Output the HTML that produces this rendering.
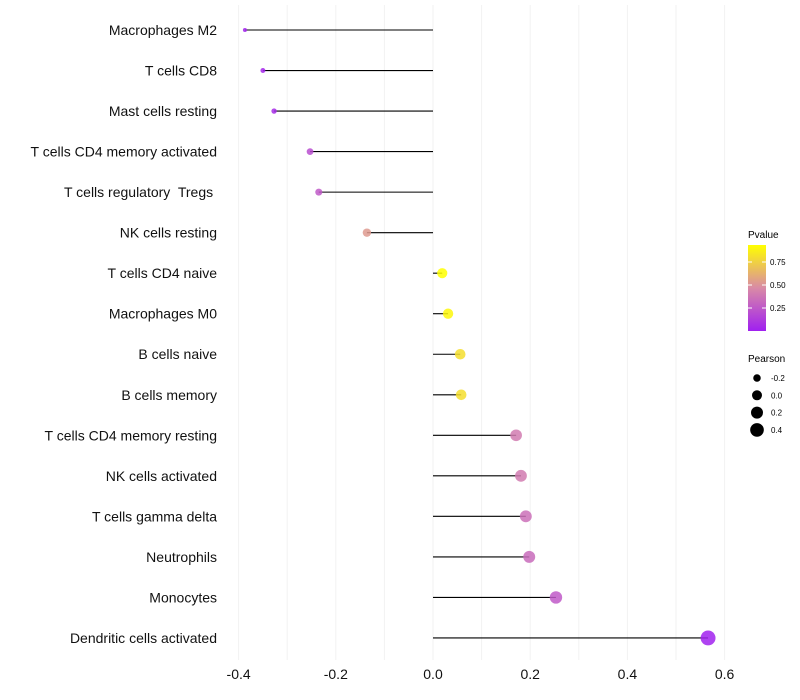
<!DOCTYPE html>
<html><head><meta charset="utf-8"><style>
body{margin:0;background:#fff;}
svg{display:block;font-family:"Liberation Sans",sans-serif;}
text{white-space:pre;}
</style></head><body>
<svg id="chart" width="800" height="700">
<defs><linearGradient id="pg" x1="0" y1="1" x2="0" y2="0">
<stop offset="0" stop-color="#a020f0"/><stop offset="0.5" stop-color="#d98aa6"/><stop offset="1" stop-color="#ffff00"/>
</linearGradient></defs>
<g id="grid"></g>
<g id="marks"></g>
<g id="labels"></g>
<g id="xt"></g>
<g>
<text x="748" y="238" font-size="10">Pvalue</text>
<rect x="748" y="245" width="18" height="86" fill="url(#pg)"/>
<line x1="748" y1="262" x2="752" y2="262" stroke="#fff"/><line x1="762" y1="262" x2="766" y2="262" stroke="#fff"/>
<line x1="748" y1="285" x2="752" y2="285" stroke="#fff"/><line x1="762" y1="285" x2="766" y2="285" stroke="#fff"/>
<line x1="748" y1="308" x2="752" y2="308" stroke="#fff"/><line x1="762" y1="308" x2="766" y2="308" stroke="#fff"/>
<text x="770" y="265" font-size="8">0.75</text>
<text x="770" y="288" font-size="8">0.50</text>
<text x="770" y="311" font-size="8">0.25</text>
</g>
<g id="sizeleg">
<text x="748" y="362" font-size="10">Pearson</text>
</g>
</svg>
<script>
const categories=["Macrophages M2","T cells CD8","Mast cells resting","T cells CD4 memory activated","T cells regulatory  Tregs ","NK cells resting","T cells CD4 naive","Macrophages M0","B cells naive","B cells memory","T cells CD4 memory resting","NK cells activated","T cells gamma delta","Neutrophils","Monocytes","Dendritic cells activated"];
const pearson=[-0.387,-0.35,-0.327,-0.253,-0.235,-0.136,0.019,0.031,0.056,0.058,0.171,0.181,0.191,0.198,0.253,0.566];
const pvalue=[0.02,0.03,0.05,0.2,0.25,0.53,0.93,0.9,0.8,0.8,0.4,0.4,0.35,0.33,0.25,0.01];
const xTicks=[-0.4,-0.2,0,0.2,0.4,0.6];
const xTickLabels=["-0.4","-0.2","0.0","0.2","0.4","0.6"];
const sizeLegend=[-0.2,0.0,0.2,0.4];
const NS="http://www.w3.org/2000/svg";
const x=v=>433+v*486;
const y=i=>30+i*40.53;
const r=v=>Math.sqrt(Math.max(1,25+54*v));
function lerp(a,b,t){return a.map((c,i)=>Math.round(c+(b[i]-c)*t));}
function col(p){const s=[[160,32,240],[217,138,166],[255,255,0]];const t=Math.min(1,Math.max(0,p/0.93));
const c=t<0.5?lerp(s[0],s[1],t*2):lerp(s[1],s[2],(t-0.5)*2);return `rgb(${c})`;}
function mk(t,a,p){const e=document.createElementNS(NS,t);for(const k in a)e.setAttribute(k,a[k]);p.appendChild(e);return e;}
const grid=document.getElementById('grid'),marks=document.getElementById('marks'),labels=document.getElementById('labels'),xt=document.getElementById('xt');
for(let g=-0.4;g<=0.651;g+=0.1){const l=mk('line',{x1:x(g),x2:x(g),y1:5,y2:660,stroke:'#f2f2f2','stroke-width':1},grid);

}
xTicks.forEach((v,i)=>{const t=mk('text',{x:x(v),y:679,'font-size':14,'text-anchor':'middle',fill:'#111'},xt);t.textContent=xTickLabels[i];

});
categories.forEach((c,i)=>{
const t=mk('text',{x:217,y:y(i)+5,'font-size':14,'text-anchor':'end',fill:'#111'},labels);t.textContent=c;


const l=mk('line',{x1:x(0),x2:x(pearson[i]),y1:y(i),y2:y(i),stroke:'#000','stroke-width':1.1},marks);


const d=mk('circle',{cx:x(pearson[i]),cy:y(i),r:r(pearson[i]),fill:col(pvalue[i]),'fill-opacity':0.85},marks);


});
const sl=document.getElementById('sizeleg');
sizeLegend.forEach((v,i)=>{const cy=378+i*17.3;
const d=mk('circle',{cx:757,cy:cy,r:r(v),fill:'#000'},sl);


const t=mk('text',{x:771,y:cy+3,'font-size':8},sl);t.textContent=v.toFixed(1);

});
</script>
</body></html>
